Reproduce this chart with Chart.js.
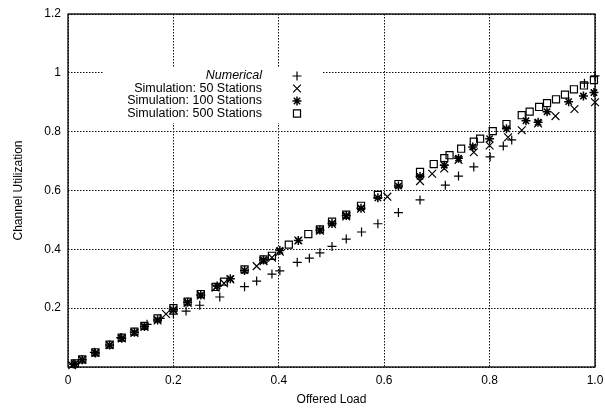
<!DOCTYPE html>
<html>
<head>
<meta charset="utf-8">
<script src="https://cdn.jsdelivr.net/npm/chart.js@4/dist/chart.umd.min.js"></script>
<style>
  html, body { margin: 0; padding: 0; background: #fff; }
  #wrap { width: 605px; height: 408px; }
</style>
</head>
<body>
<div id="wrap"><canvas id="myChart" width="605" height="408"></canvas></div>
<script>
// values: [offered load, channel utilization]
const numerical = [
    [0.01, 0.01], [0.05, 0.05], [0.1, 0.1], [0.15, 0.145], [0.175, 0.165],
    [0.2, 0.18], [0.224, 0.19], [0.25, 0.21], [0.288, 0.238], [0.335, 0.273],
    [0.358, 0.292], [0.387, 0.316], [0.402, 0.327], [0.435, 0.356], [0.458, 0.37],
    [0.478, 0.388], [0.501, 0.41], [0.528, 0.435], [0.557, 0.459], [0.588, 0.487],
    [0.627, 0.525], [0.668, 0.568], [0.716, 0.618], [0.741, 0.649], [0.77, 0.68],
    [0.801, 0.714], [0.826, 0.751], [0.842, 0.772], [0.98, 0.965], [1.0, 0.99]
]
const sim50 = [
    [0.008, 0.006], [0.027, 0.024], [0.052, 0.048], [0.079, 0.074], [0.102, 0.097],
    [0.126, 0.116], [0.145, 0.136], [0.17, 0.158], [0.186, 0.18], [0.2, 0.193],
    [0.227, 0.218], [0.252, 0.243], [0.28, 0.27], [0.296, 0.285], [0.308, 0.298],
    [0.358, 0.343], [0.371, 0.36], [0.387, 0.372], [0.402, 0.392], [0.437, 0.43],
    [0.478, 0.463], [0.501, 0.486], [0.528, 0.512], [0.556, 0.538], [0.606, 0.579],
    [0.668, 0.632], [0.691, 0.657], [0.714, 0.675], [0.741, 0.704], [0.77, 0.73],
    [0.8, 0.753], [0.835, 0.781], [0.861, 0.805], [0.892, 0.828], [0.925, 0.853],
    [0.961, 0.877], [1.0, 0.9]
]
const sim100 = [
    [0.013, 0.01], [0.027, 0.025], [0.052, 0.048], [0.079, 0.075], [0.102, 0.098],
    [0.126, 0.118], [0.145, 0.138], [0.17, 0.16], [0.2, 0.195], [0.227, 0.22],
    [0.252, 0.245], [0.283, 0.275], [0.308, 0.3], [0.335, 0.328], [0.371, 0.364],
    [0.402, 0.396], [0.437, 0.43], [0.478, 0.466], [0.501, 0.488], [0.528, 0.515],
    [0.556, 0.54], [0.588, 0.575], [0.627, 0.615], [0.668, 0.648], [0.714, 0.686],
    [0.741, 0.71], [0.768, 0.748], [0.8, 0.776], [0.832, 0.81], [0.869, 0.837],
    [0.892, 0.832], [0.909, 0.868], [0.95, 0.902], [0.978, 0.921], [0.998, 0.933]
]
const sim500 = [
    [0.013, 0.012], [0.027, 0.026], [0.052, 0.05], [0.079, 0.076], [0.102, 0.1],
    [0.126, 0.12], [0.145, 0.14], [0.17, 0.165], [0.2, 0.2], [0.227, 0.222],
    [0.252, 0.248], [0.28, 0.272], [0.296, 0.29], [0.335, 0.332], [0.371, 0.366],
    [0.387, 0.378], [0.419, 0.416], [0.456, 0.452], [0.478, 0.468], [0.501, 0.494],
    [0.528, 0.518], [0.556, 0.548], [0.588, 0.585], [0.627, 0.622], [0.668, 0.663],
    [0.694, 0.69], [0.714, 0.71], [0.724, 0.72], [0.746, 0.742], [0.77, 0.766],
    [0.782, 0.776], [0.806, 0.802], [0.832, 0.826], [0.861, 0.856], [0.876, 0.868],
    [0.894, 0.884], [0.909, 0.897], [0.926, 0.91], [0.943, 0.926], [0.96, 0.944],
    [0.979, 0.957], [0.998, 0.975]
]
const seriesLabels = ["Numerical", "Simulation: 50 Stations", "Simulation: 100 Stations", "Simulation: 500 Stations"]
const xTicks = [0, 0.2, 0.4, 0.6, 0.8, 1]
const yTicks = [0.2, 0.4, 0.6, 0.8, 1, 1.2]

const toPoints = (arr) => arr.map((p) => ({ x: p[0], y: p[1] }))

const mkSet = (label, data, style, radius, bw) => ({
    label: label,
    data: toPoints(data),
    pointStyle: style,
    pointRadius: radius,
    pointHoverRadius: radius,
    pointBorderWidth: bw,
    borderColor: '#000',
    backgroundColor: 'rgba(0,0,0,0)',
    showLine: false,
    clip: false
})

// frame round the plot + the legend block in the upper left
const framePlugin = {
    id: 'frame',
    beforeDatasetsDraw(chart) {
        const a = chart.chartArea
        const ctx = chart.ctx
        ctx.save()
        // legend sits on a white patch that hides the grid
        ctx.fillStyle = '#fff'
        ctx.fillRect(104, 67, 218, 56)
        ctx.strokeStyle = '#000'
        ctx.lineWidth = 1.3
        ctx.strokeRect(a.left, a.top, a.right - a.left, a.bottom - a.top)
        ctx.restore()
    },
    afterDatasetsDraw(chart) {
        const ctx = chart.ctx
        ctx.save()
        ctx.textAlign = 'right'
        ctx.textBaseline = 'middle'
        const rows = [76, 88.5, 101, 113.5]
        chart.data.datasets.forEach((ds, i) => {
            ctx.fillStyle = '#000'
            ctx.font = (i === 0 ? 'italic ' : '') + '12.5px "Liberation Sans", Arial, sans-serif'
            ctx.fillText(seriesLabels[i], 262, rows[i])
            ctx.fillStyle = 'rgba(0,0,0,0)'
            ctx.strokeStyle = '#000'
            ctx.lineWidth = ds.pointBorderWidth
            Chart.helpers.drawPoint(ctx, { pointStyle: ds.pointStyle, radius: ds.pointRadius, rotation: 0, borderWidth: ds.pointBorderWidth }, 297, rows[i])
        })
        ctx.restore()
    }
}

const tickFont = { family: '"Liberation Sans", Arial, sans-serif', size: 12 }

var ctx = document.getElementById('myChart').getContext('2d');
var chart = new Chart(ctx, {
    type: 'scatter',
    data: {
        datasets: [
            mkSet(seriesLabels[0], numerical, 'cross', 4.5, 1.2),
            mkSet(seriesLabels[1], sim50, 'crossRot', 5.5, 1.2),
            mkSet(seriesLabels[2], sim100, 'star', 4.5, 1.5),
            mkSet(seriesLabels[3], sim500, 'rect', 5, 1.2)
        ]
    },
    plugins: [framePlugin],
    options: {
        responsive: false,
        animation: false,
        layout: { padding: { top: 14, right: 10, left: 0, bottom: 0 } },
        plugins: {
            legend: { display: false },
            tooltip: { enabled: false }
        },
        scales: {
            x: {
                type: 'linear',
                min: 0,
                max: 1,
                afterBuildTicks: (scale) => { scale.ticks = xTicks.map((v) => ({ value: v })) },
                afterFit: (scale) => { scale.height = 41; scale.paddingLeft = 0; scale.paddingRight = 0 },
                ticks: { color: '#000', font: tickFont, padding: 6, maxRotation: 0 },
                grid: { color: '#111', lineWidth: 1, drawTicks: false },
                border: { display: false, dash: [1.5, 1.5] },
                title: { display: true, text: 'Offered Load', color: '#000', font: tickFont, padding: { top: 0, bottom: 1 } }
            },
            y: {
                type: 'linear',
                min: 0,
                max: 1.2,
                afterBuildTicks: (scale) => { scale.ticks = [0].concat(yTicks).map((v) => ({ value: v })) },
                afterFit: (scale) => { scale.width = 68; scale.paddingTop = 0; scale.paddingBottom = 0 },
                ticks: {
                    color: '#000', font: tickFont, padding: 7,
                    callback: (v) => v === 0 ? '' : String(Math.round(v * 10) / 10)
                },
                grid: { color: '#111', lineWidth: 1, drawTicks: false },
                border: { display: false, dash: [1.5, 1.5] },
                title: { display: true, text: 'Channel Utilization', color: '#000', font: tickFont, padding: { top: 11, bottom: 0 } }
            }
        }
    }
});
</script>
</body>
</html>
